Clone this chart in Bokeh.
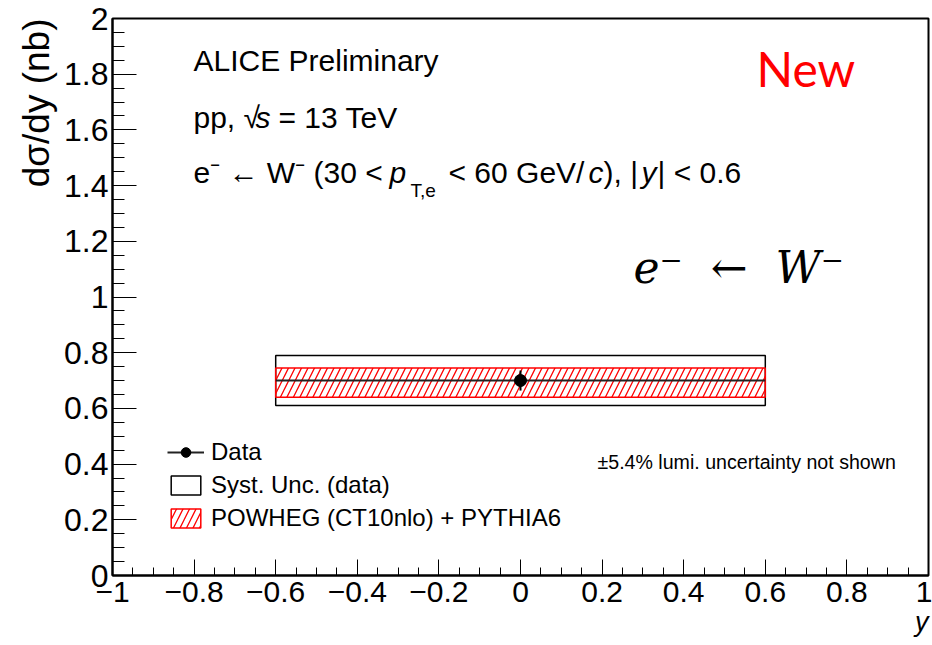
from bokeh.plotting import figure
from bokeh.models import (FixedTicker, Label, Legend, LegendItem, ColumnDataSource,
                          CustomJSTickFormatter, Title)
from bokeh.embed import file_html
from bokeh.resources import INLINE

# ---------------- data ----------------
bin_lo = [-0.6]
bin_hi = [0.6]
bin_center = [0.0]
data_val = [0.70]
stat_err = [0.036]
syst_err = [0.09]
model_lo = [0.64]
model_hi = [0.745]

x_ticks = [-1.0, -0.8, -0.6, -0.4, -0.2, 0.0, 0.2, 0.4, 0.6, 0.8, 1.0]
x_tick_labels = ["\u22121", "\u22120.8", "\u22120.6", "\u22120.4", "\u22120.2", "0",
                 "0.2", "0.4", "0.6", "0.8", "1"]
y_ticks = [0.0, 0.2, 0.4, 0.6, 0.8, 1.0, 1.2, 1.4, 1.6, 1.8, 2.0]
y_tick_labels = ["0", "0.2", "0.4", "0.6", "0.8", "1", "1.2", "1.4", "1.6", "1.8", "2"]
x_minor = [round(-1 + 0.05 * i, 3) for i in range(41)]
y_minor = [round(0.05 * i, 3) for i in range(41)]

FONT = "Liberation Sans"

src = ColumnDataSource(dict(
    lo=bin_lo, hi=bin_hi, x=bin_center, y=data_val,
    stat_lo=[v - e for v, e in zip(data_val, stat_err)],
    stat_hi=[v + e for v, e in zip(data_val, stat_err)],
    syst_lo=[v - e for v, e in zip(data_val, syst_err)],
    syst_hi=[v + e for v, e in zip(data_val, syst_err)],
    m_lo=model_lo, m_hi=model_hi,
))

p = figure(width=932, height=645, x_range=(-1, 1), y_range=(0, 2),
           output_backend="svg", toolbar_location=None,
           min_border_left=112, min_border_right=4, min_border_top=18, min_border_bottom=70)
p.xgrid.visible = False
p.ygrid.visible = False
p.outline_line_color = "black"
p.outline_line_width = 2
p.background_fill_color = "white"
p.border_fill_color = "white"


def fmt(tv, tl):
    return CustomJSTickFormatter(args=dict(tv=tv, tl=tl), code="""
        let best = 0; let d = 1e9;
        for (let i = 0; i < tv.length; i++) {
            const dd = Math.abs(tv[i] - tick);
            if (dd < d) { d = dd; best = i; }
        }
        return tl[best];
    """)


xa = p.xaxis[0]
xa.ticker = FixedTicker(ticks=x_ticks, minor_ticks=x_minor)
xa.formatter = fmt(x_ticks, x_tick_labels)
xa.major_tick_in = 16
xa.major_tick_out = 0
xa.minor_tick_in = 8
xa.minor_tick_out = 0
xa.major_label_standoff = 6
xa.major_label_text_font = FONT
xa.major_label_text_font_size = "30px"
xa.major_label_text_color = "black"
xa.axis_line_width = 2
xa.axis_line_color = "black"
xa.major_tick_line_color = "black"
xa.minor_tick_line_color = "black"

ya = p.yaxis[0]
ya.ticker = FixedTicker(ticks=y_ticks, minor_ticks=y_minor)
ya.formatter = fmt(y_ticks, y_tick_labels)
ya.major_tick_in = 24
ya.major_tick_out = 0
ya.minor_tick_in = 12
ya.minor_tick_out = 0
ya.major_label_standoff = 4
ya.major_label_text_font = FONT
ya.major_label_text_font_size = "32px"
ya.major_label_text_color = "black"
ya.axis_line_width = 2
ya.axis_line_color = "black"
ya.major_tick_line_color = "black"
ya.minor_tick_line_color = "black"

# axis titles as side panels
p.add_layout(Title(text="d\u03c3/dy (nb)", align="right", text_font=FONT,
                   text_font_size="37px", text_font_style="normal",
                   text_color="black", standoff=9), "left")
p.add_layout(Title(text="y", align="right", text_font=FONT,
                   text_font_size="27px", text_font_style="italic",
                   text_color="black", standoff=0), "below")

# ---------------- glyphs ----------------
syst = p.quad(left="lo", right="hi", bottom="syst_lo", top="syst_hi", source=src,
              fill_alpha=0, line_color="black", line_width=1.5)
model = p.quad(left="lo", right="hi", bottom="m_lo", top="m_hi", source=src,
               fill_alpha=0, line_color="red", line_width=1.5,
               hatch_pattern="/", hatch_color="red", hatch_weight=1.3, hatch_scale=13)
hline = p.segment(x0="lo", x1="hi", y0="y", y1="y", source=src,
                  line_color="#222222", line_width=2)
vline = p.segment(x0="x", x1="x", y0="stat_lo", y1="stat_hi", source=src,
                  line_color="black", line_width=2)
pt = p.scatter(x="x", y="y", source=src, size=12, color="black")

legend = Legend(items=[
    LegendItem(label="Data", renderers=[hline, pt]),
    LegendItem(label="Syst. Unc. (data)", renderers=[syst]),
    LegendItem(label="POWHEG (CT10nlo) + PYTHIA6", renderers=[model]),
], location=(55, 43), padding=0, margin=0, spacing=5,
   glyph_width=37, glyph_height=24, label_standoff=7,
   label_text_font=FONT, label_text_font_size="24px", label_text_color="black",
   border_line_alpha=0, background_fill_alpha=0)
p.add_layout(legend)


def lab(x, y, text, size="30px", style="normal", font=FONT, color="black",
        align="left", baseline="middle"):
    p.add_layout(Label(x=x, y=y, x_units="screen", y_units="screen", text=text,
                       text_font=font, text_font_size=size, text_font_style=style,
                       text_color=color, text_align=align, text_baseline=baseline))


# header texts (screen units relative to frame bottom-left)
lab(81, 515, "ALICE Preliminary")
lab(81, 458, "pp, \u221a")
lab(143, 458, "s", style="italic")
lab(166, 458, "= 13 TeV")
lab(81, 403, "e\u207b \u2190 W\u207b (30 <")
lab(277, 403, "p", style="italic")
lab(298, 385, "T,e", size="19px")
lab(336, 403, "< 60 GeV/")
lab(476, 403, "c", style="italic")
lab(491, 403, "), |")
lab(529, 403, "y", style="italic")
lab(545, 403, "| < 0.6")

lab(644, 507, "New", size="48px", font="Lato", color="red")
lab(521, 308, "e\u207b\u00a0 \u2190\u00a0 W\u207b", size="44px", style="italic", font="DejaVu Serif")
lab(485, 114, "\u00b15.4% lumi. uncertainty not shown", size="19.6px")

open("out.html", "w").write(file_html(p, INLINE))
